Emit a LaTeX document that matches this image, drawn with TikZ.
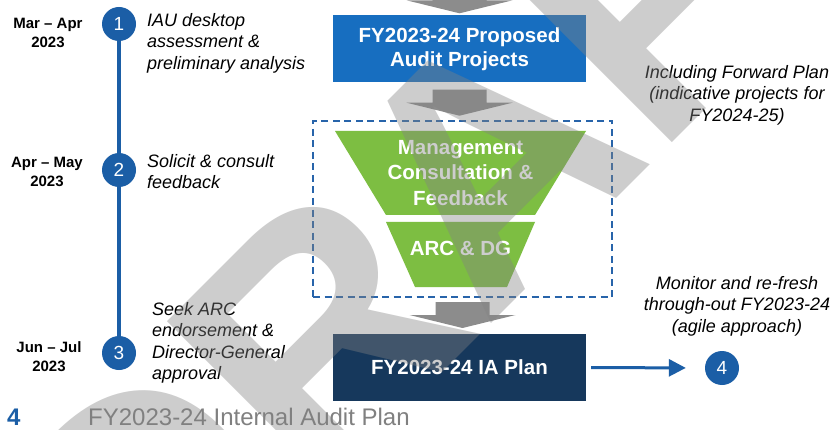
\documentclass[tikz,border=0pt]{standalone}
\usepackage{fontspec}
\setmainfont{Liberation Sans}
\usetikzlibrary{arrows.meta,calc}

\definecolor{tlblue}{RGB}{27,94,166}
\definecolor{boxblue}{RGB}{23,110,192}
\definecolor{navy}{RGB}{22,56,92}
\definecolor{funnelgreen}{RGB}{125,190,66}
\definecolor{arrowgrey}{RGB}{140,140,140}
\definecolor{fencecol}{RGB}{40,100,170}
\definecolor{footgrey}{RGB}{128,128,128}
\definecolor{markgrey}{RGB}{130,130,130}

\tikzset{
  datelbl/.style={font=\bfseries\fontsize{15}{19}\selectfont, align=center, inner sep=0pt},
  steplbl/.style={font=\itshape\fontsize{18}{21.5}\selectfont, align=left, anchor=west, inner sep=0pt},
  notelbl/.style={font=\itshape\fontsize{18}{21.5}\selectfont, align=center, inner sep=0pt},
  stepnum/.style={circle, fill=tlblue, minimum size=34pt, inner sep=0pt, text=white,
    font=\fontsize{19}{19}\selectfont},
  boxtext/.style={text=white, font=\bfseries\fontsize{20.5}{24}\selectfont, align=center, inner sep=0pt},
  planbox/.style={boxtext, minimum width=253pt, minimum height=67pt},
  tline/.style={draw=tlblue, line width=3.5pt},
  flowarrow/.style={draw=tlblue, line width=3pt, -{Triangle[length=17pt,width=17pt]}},
  fence/.style={draw=fencecol, line width=2pt, dash pattern=on 7pt off 4.5pt,
    minimum width=299pt, minimum height=176pt, inner sep=0pt},
  watermark/.style={inner sep=0pt, text=markgrey, text opacity=0.4,
    font=\bfseries\fontsize{335}{335}\selectfont},
  downarrow/.pic={
    \fill[arrowgrey] (0,0) -- (-53,-13) -- (-27,-13) -- (-27,-26)
      -- (27,-26) -- (27,-13) -- (53,-13) -- cycle;
  }
}

\begin{document}
\begin{tikzpicture}[x=1pt,y=-1pt]
  \useasboundingbox (0,0) rectangle (834,430);
  \fill[white] (0,0) rectangle (834,430);

  % timeline
  \node[stepnum] (c1) at (119,24) {1};
  \node[stepnum] (c2) at (119,170) {2};
  \node[stepnum] (c3) at (119,353) {3};
  \draw[tline] (c1.south) -- (c2.north);
  \draw[tline] (c2.south) -- (c3.north);

  \node[datelbl] (d1) at (48,33) {Mar -- Apr\\2023};
  \node[datelbl] (d2) at (47,172) {Apr -- May\\2023};
  \node[datelbl] (d3) at (49,357) {Jun -- Jul\\2023};

  \node[steplbl] (s1) at (147,43) {IAU desktop\\assessment \&\\preliminary analysis};
  \node[steplbl] (s2) at (147,171.5) {Solicit \& consult\\feedback};
  \node[steplbl] (s3) at (152,343) {Seek ARC\\endorsement \&\\Director-General\\approval};

  % central flow
  \node[planbox, fill=boxblue] (proposed) at (459.5,49)
    {FY2023-24 Proposed\\Audit Projects};
  \node[fence] (group) at (462.5,209) {};
  \fill[funnelgreen] (335,131) -- (586,131) -- (535,215) -- (386,215) -- cycle;
  \fill[funnelgreen] (386,222) -- (535,222) -- (507,287) -- (415,287) -- cycle;
  \node[boxtext, font=\bfseries\fontsize{20.5}{25.5}\selectfont] (consult) at (460.5,173)
    {Management\\Consultation \&\\Feedback};
  \node[boxtext] (arcdg) at (460.5,248.5) {ARC \& DG};
  \node[planbox, fill=navy] (plan) at (459.5,367.5) {FY2023-24 IA Plan};

  \pic at ($(proposed.north)+(0,-2)$) {downarrow};
  \pic at ($(proposed.south)+(0,33)$) {downarrow};
  \pic at ($(group.south)+(0,30)$) {downarrow};

  % ongoing step
  \node[stepnum] (c4) at (722,368) {4};
  \draw[flowarrow, shorten <=5pt, shorten >=19pt] (plan.east) -- (c4.west);

  \node[notelbl] (fwd) at (737,95)
    {Including Forward Plan\\(indicative projects for\\FY2024-25)};
  \node[notelbl] (monitor) at (737,306)
    {Monitor and re-fresh\\through-out FY2023-24\\(agile approach)};

  % footer
  \node[anchor=base west, inner sep=0pt, text=tlblue,
    font=\bfseries\fontsize{24}{24}\selectfont] (pageno) at (7,425) {4};
  \node[anchor=base west, inner sep=0pt, text=footgrey,
    font=\fontsize{24}{24}\selectfont] (title) at (88,425) {FY2023-24 Internal Audit Plan};

  % watermark
  \node[watermark, rotate=45] (mark) at (463,189) {DRAFT};
\end{tikzpicture}
\end{document}
